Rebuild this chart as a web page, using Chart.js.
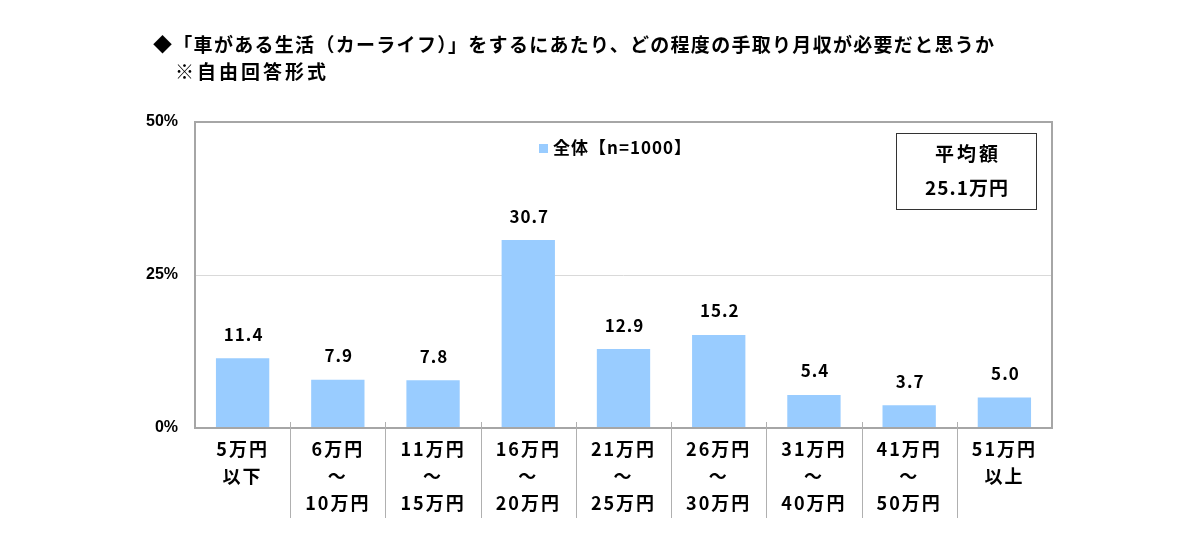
<!DOCTYPE html>
<html>
<head>
<meta charset="utf-8">
<script src="https://cdn.jsdelivr.net/npm/chart.js@4.4.1/dist/chart.umd.min.js"></script>
<style>
  html, body { margin: 0; padding: 0; background: #fff; }
  #wrap { width: 1200px; height: 541px; position: relative; }
</style>
</head>
<body>
<div id="wrap"><canvas id="chart" width="1200" height="541"></canvas></div>
<script>
// data
const categories = [
  ["5万円", "以下"],
  ["6万円", "～", "10万円"],
  ["11万円", "～", "15万円"],
  ["16万円", "～", "20万円"],
  ["21万円", "～", "25万円"],
  ["26万円", "～", "30万円"],
  ["31万円", "～", "40万円"],
  ["41万円", "～", "50万円"],
  ["51万円", "以上"]
];
const values = [11.4, 7.9, 7.8, 30.7, 12.9, 15.2, 5.4, 3.7, 5.0];
const yTicks = [0, 25, 50];
const seriesName = "全体【n=1000】";
const titleLines = [
  "◆「車がある生活（カーライフ）」をするにあたり、どの程度の手取り月収が必要だと思うか",
  "※自由回答形式"
];
const avgLines = ["平均額", "25.1万円"];

const JP = "'Noto Sans CJK JP', 'Noto Sans', sans-serif";
const barColor = "#99ccff";

// title, legend, average box, value labels, separators
const decor = {
  id: "decor",
  beforeDraw(chart) {
    // x labels get wider spacing, like the original
    chart.ctx.letterSpacing = "2px";
  },
  afterDatasetsDraw(chart) {
    // y labels (ticks.z = 1) are drawn after this point
    chart.ctx.letterSpacing = "0px";
  },
  afterDraw(chart) {
    const { ctx, chartArea: a, scales: { x, y } } = chart;
    ctx.save();
    ctx.letterSpacing = "0px";

    // plot frame
    ctx.strokeStyle = "#a6a6a6";
    ctx.lineWidth = 2;
    ctx.strokeRect(a.left, a.top, a.right - a.left, a.bottom - a.top);

    // separators between categories
    ctx.strokeStyle = "#b0b0b0";
    ctx.lineWidth = 1;
    for (let i = 1; i < categories.length; i++) {
      const px = Math.round((x.getPixelForValue(i - 1) + x.getPixelForValue(i)) / 2) + 0.5;
      ctx.beginPath();
      ctx.moveTo(px, a.bottom - 6);
      ctx.lineTo(px, 518);
      ctx.stroke();
    }

    // value labels
    ctx.fillStyle = "#000";
    ctx.font = "bold 17px " + JP;
    ctx.letterSpacing = "1px";
    ctx.textAlign = "center";
    ctx.textBaseline = "middle";
    values.forEach((v, i) => {
      ctx.fillText(v.toFixed(1), x.getPixelForValue(i) + 1, y.getPixelForValue(v) - 24);
    });

    // title
    ctx.textAlign = "left";
    ctx.font = "bold 19px " + JP;
    ctx.letterSpacing = "1.3px";
    ctx.fillText(titleLines[0], 153, 45);
    ctx.letterSpacing = "3px";
    ctx.fillText(titleLines[1], 175, 72);

    // legend
    ctx.fillStyle = barColor;
    ctx.fillRect(539, 144, 9, 9);
    ctx.fillStyle = "#000";
    ctx.font = "bold 17px " + JP;
    ctx.letterSpacing = "1px";
    ctx.fillText(seriesName, 553, 148);

    // average box
    ctx.strokeStyle = "#333";
    ctx.lineWidth = 1;
    ctx.strokeRect(896.5, 133.5, 140, 76);
    ctx.textAlign = "center";
    ctx.font = "bold 19px " + JP;
    ctx.letterSpacing = "3px";
    ctx.fillText(avgLines[0], 968, 154);
    ctx.letterSpacing = "1px";
    ctx.fillText(avgLines[1], 967, 188);

    ctx.restore();
  }
};

new Chart(document.getElementById("chart"), {
  type: "bar",
  data: {
    labels: categories,
    datasets: [{
      label: seriesName,
      data: values,
      backgroundColor: barColor,
      barPercentage: 0.56,
      categoryPercentage: 1.0
    }]
  },
  options: {
    responsive: false,
    animation: false,
    layout: { padding: { top: 122, right: 148, bottom: 0, left: 0 } },
    plugins: {
      legend: { display: false },
      tooltip: { enabled: false }
    },
    scales: {
      x: {
        grid: { display: false },
        border: { display: false },
        ticks: {
          color: "#000",
          font: { family: JP, size: 18, weight: "bold", lineHeight: "27px" },
          padding: 0,
          maxRotation: 0,
          autoSkip: false
        },
        afterFit(scale) { scale.height = 113; }
      },
      y: {
        min: 0,
        max: 50,
        afterBuildTicks(scale) { scale.ticks = yTicks.map(v => ({ value: v })); },
        grid: {
          color: ctx => (ctx.tick && ctx.tick.value === 25 ? "#d9d9d9" : "rgba(0,0,0,0)"),
          drawTicks: false
        },
        border: { display: false },
        ticks: {
          z: 1,
          color: "#000",
          font: { family: "'Liberation Sans', Arial, sans-serif", size: 16, weight: "bold" },
          padding: 17,
          callback: v => v + "%"
        },
        afterFit(scale) { scale.width = 195; }
      }
    }
  },
  plugins: [decor]
});
</script>
</body>
</html>
